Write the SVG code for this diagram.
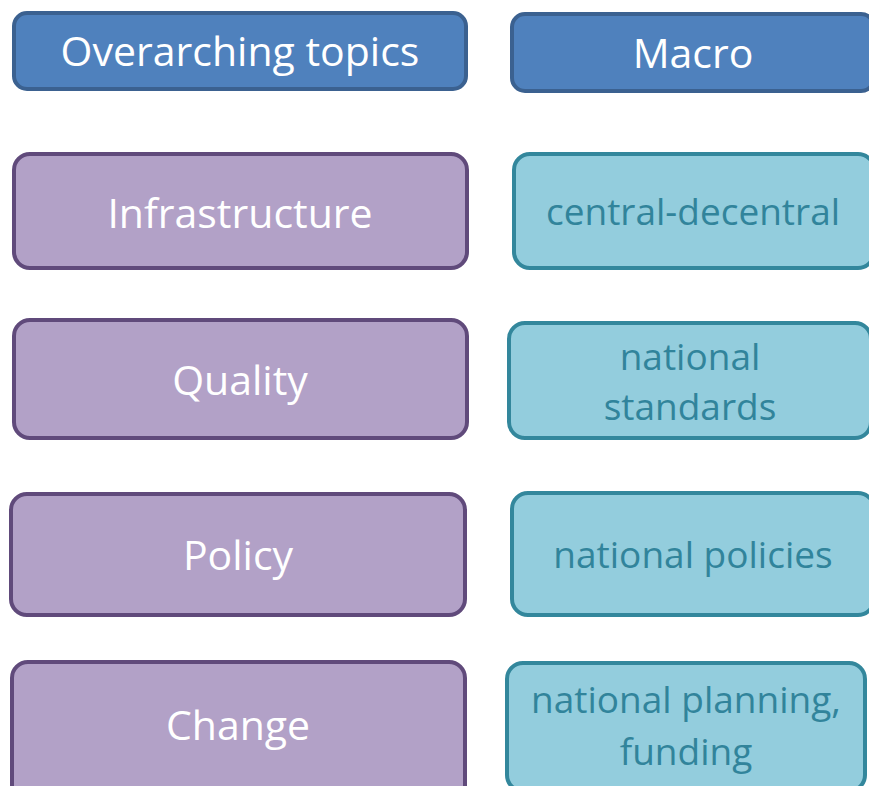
<svg xmlns="http://www.w3.org/2000/svg" width="869" height="786" viewBox="0 0 869 786">
<style>
rect{stroke-width:4}
.hd rect{fill:#4f81bd;stroke:#3b6190}
.tp rect{fill:#b2a1c7;stroke:#604a7b}
.mc rect{fill:#93cddd;stroke:#33879c}
text{font-family:"Open Sans","Liberation Sans",sans-serif;text-anchor:middle}
.hd text,.tp text{fill:#ffffff;font-size:41px}
.mc text{fill:#31849b;font-size:37px}
</style>
<rect width="869" height="786" fill="#ffffff" style="stroke:none"/>
<g id="overarching" class="hd"><rect x="14" y="13" width="452" height="76" rx="13"/><text x="240" y="66">Overarching topics</text></g>
<g id="macro" class="hd"><rect x="512" y="14" width="362" height="77" rx="13"/><text x="693" y="68">Macro</text></g>
<g id="infrastructure" class="tp"><rect x="14" y="154" width="453" height="114" rx="16"/><text x="240" y="228">Infrastructure</text></g>
<g id="central" class="mc"><rect x="514" y="154" width="360" height="114" rx="16"/><text x="693" y="225">central-decentral</text></g>
<g id="quality" class="tp"><rect x="14" y="320" width="453" height="118" rx="16"/><text x="240" y="395">Quality</text></g>
<g id="standards" class="mc"><rect x="509" y="323" width="362" height="115" rx="16"/><text x="690" y="370">national</text><text x="690" y="420">standards</text></g>
<g id="policy" class="tp"><rect x="11" y="494" width="454" height="121" rx="16"/><text x="238" y="570">Policy</text></g>
<g id="policies" class="mc"><rect x="512" y="493" width="362" height="122" rx="16"/><text x="693" y="568">national policies</text></g>
<g id="change" class="tp"><rect x="12" y="662" width="453" height="140" rx="16"/><text x="238" y="740">Change</text></g>
<g id="planning" class="mc"><rect x="507" y="663" width="358" height="128" rx="16"/><text x="686" y="713">national planning,</text><text x="686" y="765">funding</text></g>
<g id="connectors"/>
</svg>
